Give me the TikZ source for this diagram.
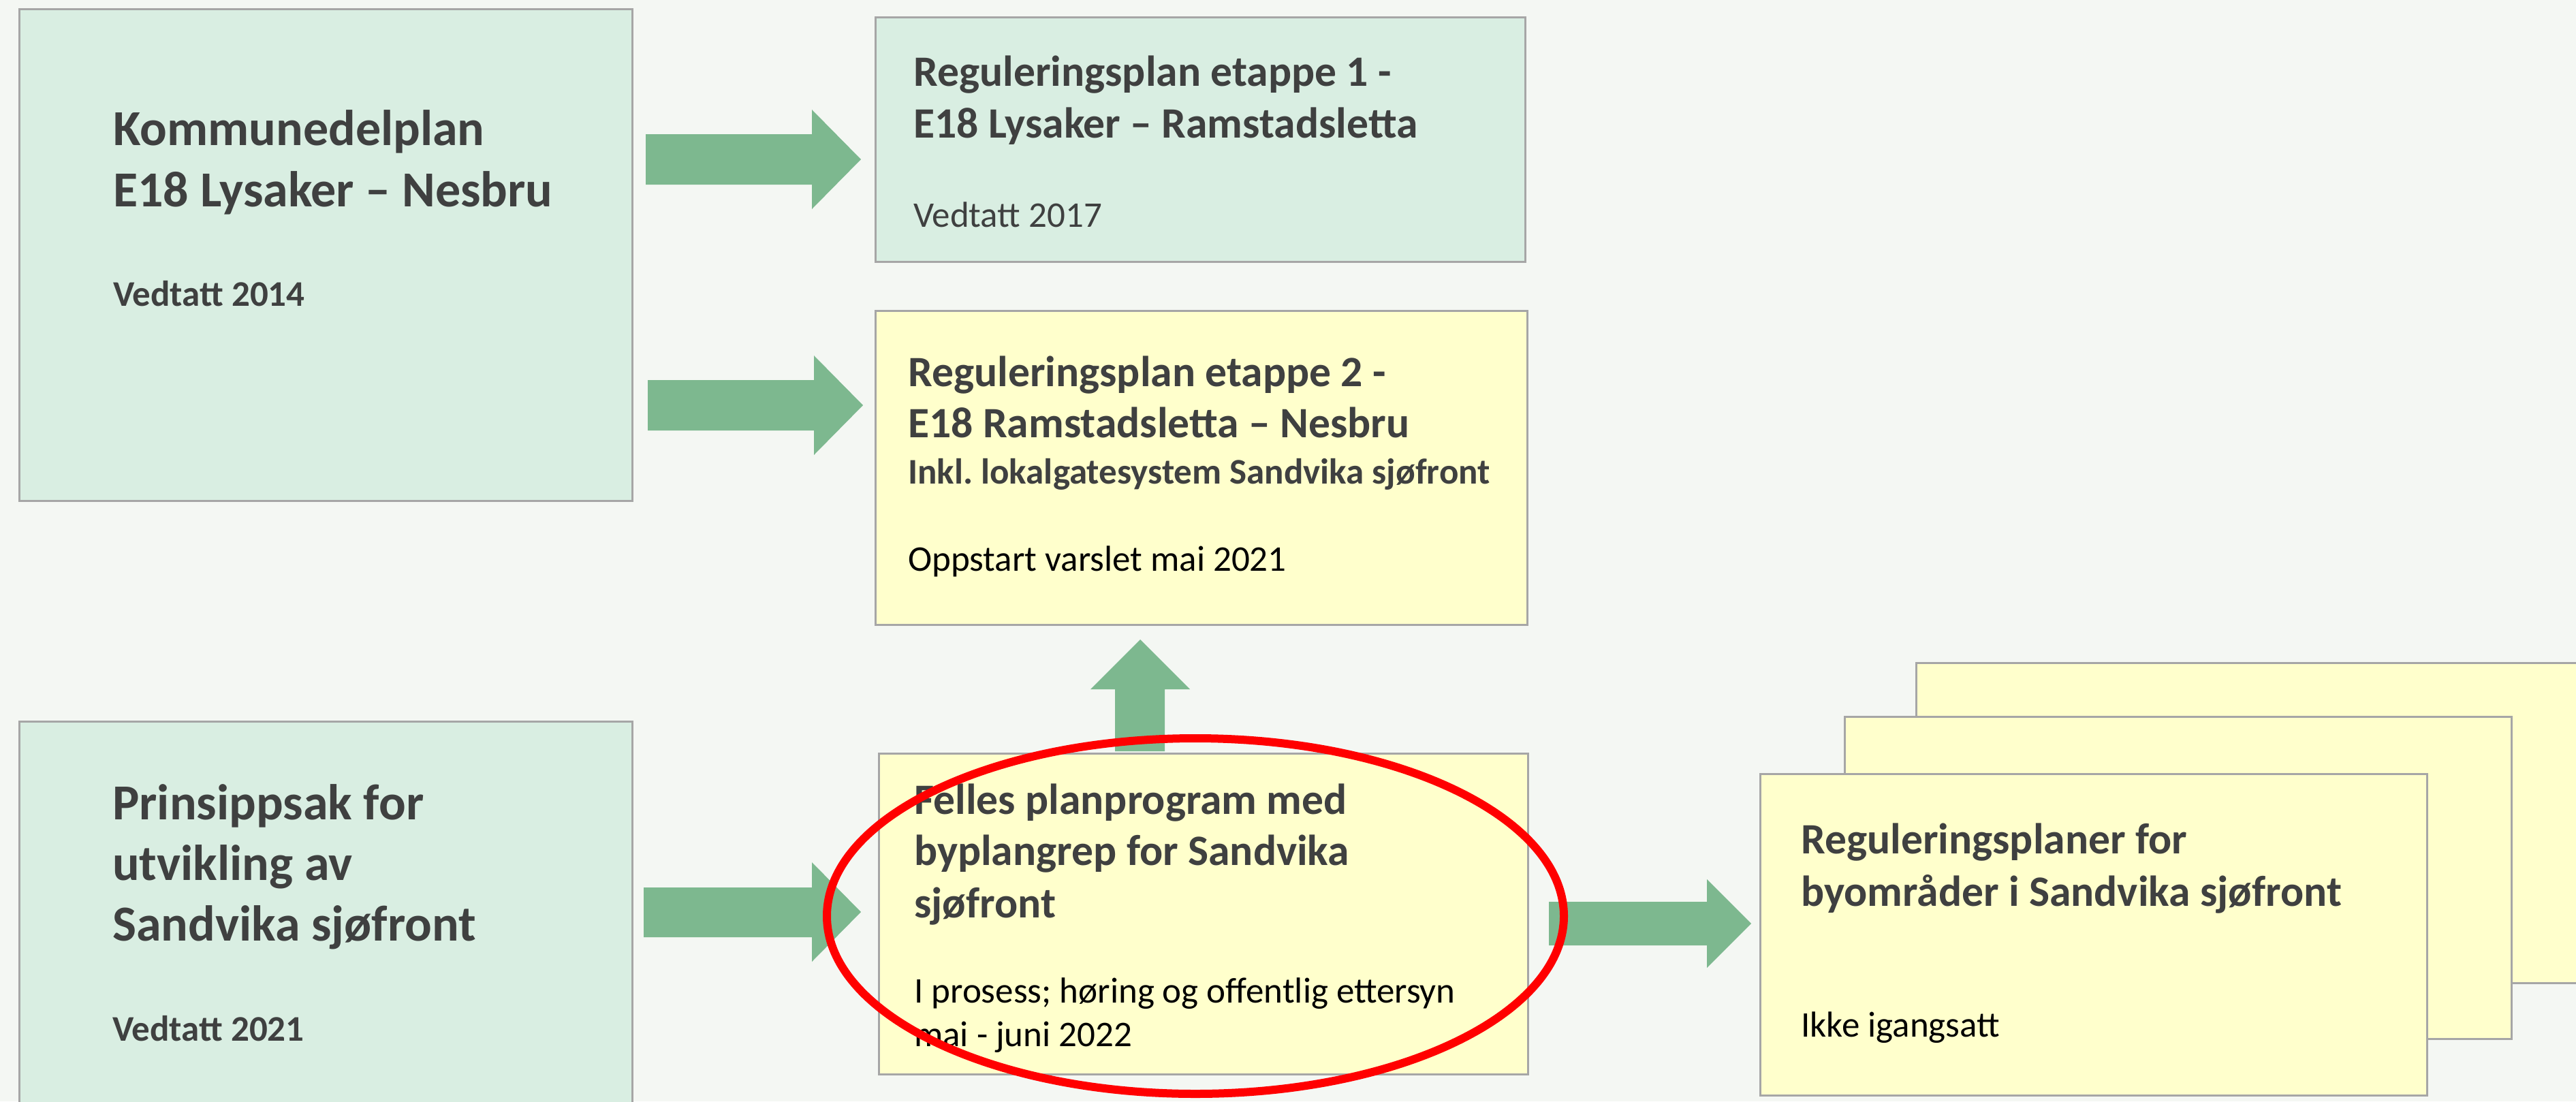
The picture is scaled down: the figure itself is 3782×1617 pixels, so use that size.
\documentclass[tikz,border=0pt]{standalone}
\usepackage{fontspec}
\setmainfont{Carlito}
\frenchspacing
\definecolor{bg}{HTML}{F4F7F3}
\definecolor{greenbox}{HTML}{D9EEE2}
\definecolor{yellowbox}{HTML}{FFFFCC}
\definecolor{boxline}{HTML}{A6A6A6}
\definecolor{arrowgreen}{HTML}{7DB88F}
\definecolor{darktext}{HTML}{3F4040}
\begin{document}
\begin{tikzpicture}[x=1pt,y=-1pt,
  panel/.style={draw=boxline, line width=3pt, rectangle, inner sep=0pt, anchor=north west},
  greenpanel/.style={panel, fill=greenbox},
  yellowpanel/.style={panel, fill=yellowbox},
  txt/.style={anchor=base west, inner sep=0pt, text=darktext},
  bigtitle/.style={txt, font=\fontsize{74}{90}\selectfont\bfseries},
  title/.style={txt, font=\fontsize{63.6}{76}\selectfont\bfseries},
  smallbold/.style={txt, font=\fontsize{53}{64}\selectfont\bfseries},
  small/.style={txt, font=\fontsize{53}{64}\selectfont},
  blacksmall/.style={small, text=black},
  blockarrow/.style={fill=arrowgreen, draw=none},
  ring/.style={draw=red, line width=12pt}]
\useasboundingbox (0,0) rectangle (3782,1617);
\fill[bg] (0,0) rectangle (3782,1617);

% boxes
\node[greenpanel, minimum width=900pt, minimum height=722pt] (A) at (27,12) {};
\node[greenpanel, minimum width=954pt, minimum height=359pt] (B) at (1284,24) {};
\node[yellowpanel, minimum width=957pt, minimum height=461pt] (C) at (1284,455) {};
\node[greenpanel, minimum width=900pt, minimum height=722pt] (D) at (27,1058) {};
\node[yellowpanel, minimum width=953pt, minimum height=471pt] (E) at (1289,1105) {};
\node[yellowpanel, minimum width=979pt, minimum height=470pt] (F3) at (2812,972) {};
\node[yellowpanel, minimum width=979pt, minimum height=473pt] (F2) at (2707,1051) {};
\node[yellowpanel, minimum width=979pt, minimum height=472pt] (F1) at (2583,1135) {};

% arrows
\fill[blockarrow] (948,197) -- (1192,197) -- (1192,161) -- (1264,234) -- (1192,307) -- (1192,271) -- (948,271) -- cycle;
\fill[blockarrow] (951,558) -- (1195,558) -- (1195,522) -- (1267,595) -- (1195,668) -- (1195,632) -- (951,632) -- cycle;
\fill[blockarrow] (945,1303) -- (1192,1303) -- (1192,1266) -- (1264,1339) -- (1192,1412) -- (1192,1376) -- (945,1376) -- cycle;
\fill[blockarrow] (2274,1324) -- (2506,1324) -- (2506,1291) -- (2571,1356) -- (2506,1421) -- (2506,1388) -- (2274,1388) -- cycle;
\fill[blockarrow] (1637,1103) -- (1637,1012) -- (1601,1012) -- (1674,939) -- (1747,1012) -- (1710,1012) -- (1710,1103) -- cycle;

% texts A
\node[bigtitle] (a1) at (166,213) {Kommunedelplan};
\node[bigtitle] (a2) at (166,303) {E18 Lysaker – Nesbru};
\node[smallbold] (a3) at (166,449) {Vedtatt 2014};
% texts B
\node[title] (b1) at (1341,126) {Reguleringsplan etappe 1 -};
\node[title] (b2) at (1341,202) {E18 Lysaker – Ramstadsletta};
\node[small] (b3) at (1341,333) {Vedtatt 2017};
% texts C
\node[title] (c1) at (1333,567) {Reguleringsplan etappe 2 -};
\node[title] (c2) at (1333,642) {E18 Ramstadsletta – Nesbru};
\node[smallbold] (c3) at (1333,710) {Inkl. lokalgatesystem Sandvika sjøfront};
\node[blacksmall] (c4) at (1333,838) {Oppstart varslet mai 2021};
% texts D
\node[bigtitle] (d1) at (165,1203) {Prinsippsak for};
\node[bigtitle] (d2) at (165,1292) {utvikling av};
\node[bigtitle] (d3) at (165,1381) {Sandvika sjøfront};
\node[smallbold] (d4) at (165,1528) {Vedtatt 2021};
% texts E
\node[title] (e1) at (1342,1195) {Felles planprogram med};
\node[title] (e2) at (1342,1270) {byplangrep for Sandvika};
\node[title] (e3) at (1342,1347) {sjøfront};
\node[blacksmall] (e4) at (1342,1472) {I prosess; høring og offentlig ettersyn};
\node[blacksmall] (e5) at (1342,1536) {mai - juni 2022};
% texts F
\node[title] (f1) at (2644,1253) {Reguleringsplaner for};
\node[title] (f2) at (2644,1330) {byområder i Sandvika sjøfront};
\node[blacksmall] (f3) at (2644,1522) {Ikke igangsatt};

% highlight ring
\draw[ring] (1755,1345) ellipse [x radius=541pt, y radius=261pt];
\end{tikzpicture}
\end{document}
